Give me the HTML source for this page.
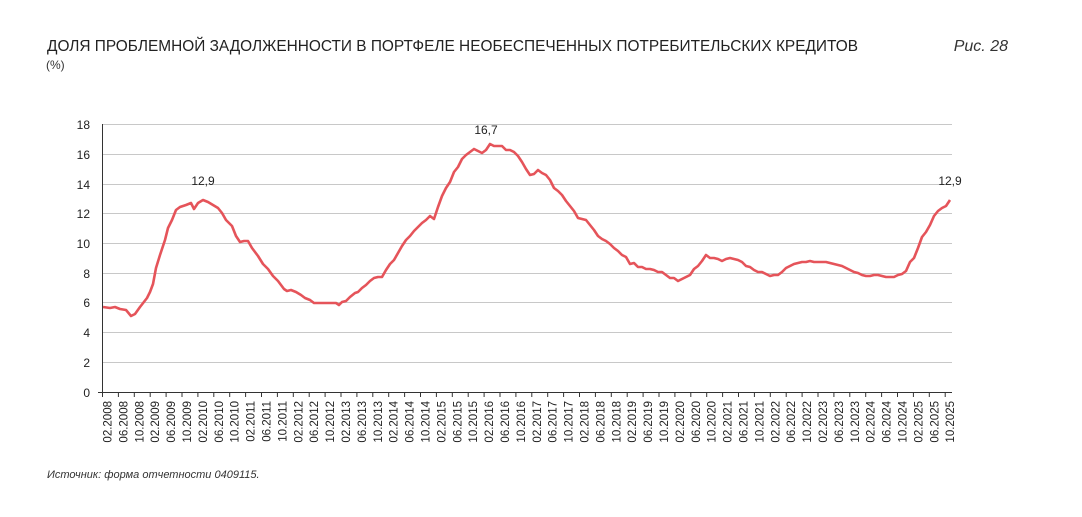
<!DOCTYPE html>
<html><head><meta charset="utf-8"><style>
body{margin:0;background:#fff;width:1082px;height:512px;overflow:hidden;font-family:"Liberation Sans",sans-serif;}
</style></head><body>
<svg width="1082" height="512" xmlns="http://www.w3.org/2000/svg" font-family="Liberation Sans, sans-serif">
<text x="47" y="51" font-size="15.5" fill="#222" textLength="811" lengthAdjust="spacingAndGlyphs">ДОЛЯ ПРОБЛЕМНОЙ ЗАДОЛЖЕННОСТИ В ПОРТФЕЛЕ НЕОБЕСПЕЧЕННЫХ ПОТРЕБИТЕЛЬСКИХ КРЕДИТОВ</text>
<text x="46" y="69" font-size="12" fill="#333">(%)</text>
<text x="1008" y="51" font-size="16" font-style="italic" fill="#333" text-anchor="end">Рис. 28</text>
<g stroke="#c8c8c8" stroke-width="1">
<line x1="102" x2="952" y1="124.5" y2="124.5"/><line x1="102" x2="952" y1="154.5" y2="154.5"/>
<line x1="102" x2="952" y1="184.5" y2="184.5"/><line x1="102" x2="952" y1="213.5" y2="213.5"/>
<line x1="102" x2="952" y1="243.5" y2="243.5"/><line x1="102" x2="952" y1="273.5" y2="273.5"/>
<line x1="102" x2="952" y1="302.5" y2="302.5"/><line x1="102" x2="952" y1="332.5" y2="332.5"/>
<line x1="102" x2="952" y1="362.5" y2="362.5"/>
</g>
<line x1="102.5" x2="102.5" y1="124" y2="392" stroke="#333"/>
<line x1="98" x2="952" y1="392.5" y2="392.5" stroke="#333"/>
<g font-size="12" fill="#222" text-anchor="end">
<text x="90" y="129">18</text><text x="90" y="159">16</text><text x="90" y="189">14</text>
<text x="90" y="218">12</text><text x="90" y="248">10</text><text x="90" y="278">8</text>
<text x="90" y="307">6</text><text x="90" y="337">4</text><text x="90" y="367">2</text><text x="90" y="397">0</text>
</g>
<g id="ticks" stroke="#333"></g>
<g id="xl" font-size="11.5" fill="#222"></g>
<polyline fill="none" stroke="#e5545a" stroke-width="2.6" stroke-linejoin="round" points="103,307 110,308 115,307 120,309 126,310 131,316 135,314 140,307 147,298 150,292 153,284 156,268 160,255 165,240 168,228 172,220 176,210 180,207 186,205 191,203 194,209 198,203 203,200 208,202 213,205 218,208 222,213 226,220 232,226 236,236 240,242 244,241 248,241 252,248 258,256 263,264 268,269 273,276 278,281 284,289 287,291 291,290 296,292 301,295 305,298 310,300 314,303 318,303 322,303 330,303 336,303 339,305 342,302 346,301 350,297 355,293 358,292 362,288 366,285 370,281 374,278 378,277 382,277 386,270 390,264 394,260 398,253 402,246 406,240 410,236 414,231 418,227 422,223 426,220 430,216 434,219 438,207 442,196 446,188 450,182 454,172 458,167 462,159 466,155 470,152 474,149 478,151 482,153 486,150 490,144 494,146 498,146 502,146 506,150 510,150 514,152 518,156 522,162 526,169 530,175 534,174 538,170 542,173 546,175 550,180 554,188 558,191 562,195 566,201 570,206 574,211 578,218 582,219 586,220 590,225 594,230 598,236 602,239 606,241 610,244 614,248 618,251 622,255 626,257 630,264 634,263 638,267 642,267 646,269 650,269 654,270 658,272 662,272 666,275 670,278 674,278 678,281 682,279 686,277 690,275 694,269 698,266 702,261 706,255 710,258 714,258 718,259 722,261 726,259 730,258 734,259 738,260 742,262 746,266 750,267 754,270 758,272 762,272 766,274 770,276 774,275 778,275 782,272 786,268 790,266 794,264 798,263 802,262 806,262 810,261 814,262 818,262 822,262 826,262 830,263 834,264 838,265 842,266 846,268 850,270 854,272 858,273 862,275 866,276 870,276 874,275 878,275 882,276 886,277 890,277 894,277 898,275 902,274 906,271 910,262 914,258 918,248 922,237 926,232 930,225 934,216 938,211 942,208 946,206 950,200"/>
<g font-size="12" fill="#222" text-anchor="middle">
<text x="203" y="185">12,9</text><text x="486" y="134">16,7</text><text x="950" y="185">12,9</text>
</g>
<text x="47" y="478" font-size="11" font-style="italic" fill="#333">Источник: форма отчетности 0409115.</text>
<script>
var t=document.getElementById('ticks'),xl=document.getElementById('xl'),ns='http://www.w3.org/2000/svg';
var m=['02','06','10'];
for(var i=0;i<54;i++){var x=102+i*15.9;
var l=document.createElementNS(ns,'line');l.setAttribute('x1',x+.5);l.setAttribute('x2',x+.5);l.setAttribute('y1',392);l.setAttribute('y2',397);t.appendChild(l);
var tx=document.createElementNS(ns,'text');var cx=x+9.5;tx.setAttribute('transform','translate('+cx+',401) rotate(-90)');tx.setAttribute('text-anchor','end');
tx.textContent=m[i%3]+'.'+(2008+Math.floor(i/3));xl.appendChild(tx);}
</script>
</svg>
</body></html>
